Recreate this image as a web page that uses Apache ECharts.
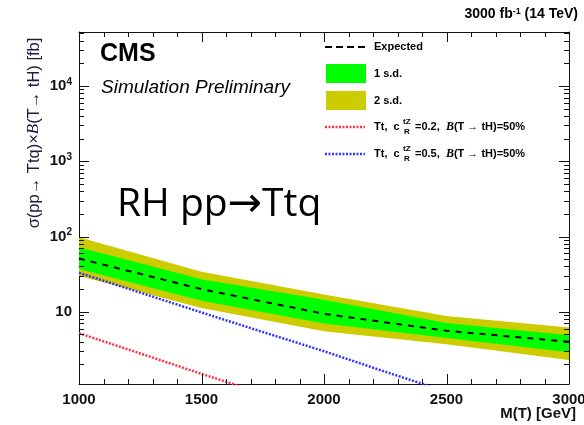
<!DOCTYPE html>
<html>
<head>
<meta charset="utf-8">
<script src="https://cdn.jsdelivr.net/npm/echarts@6/dist/echarts.min.js"></script>
<style>
  html, body { margin: 0; padding: 0; background: #fff; }
  #chart { width: 584px; height: 425px; }
</style>
</head>
<body>
<div id="chart"></div>
<script>
// M(T) points where the limit bands were evaluated
const masses = [1000, 1500, 2000, 2500, 3000]
// expected limit and its bands [fb]
const expected = [51, 20, 9.4, 5.6, 4.0]
const sd1Low = [37, 14, 7.0, 4.5, 2.9]
const sd1High = [72, 27, 14.5, 7.1, 4.9]
const sd2Low = [30, 11.2, 5.5, 3.7, 2.3]
const sd2High = [98, 34, 17, 8.8, 6.2]
// theory curves (Tt, cR=0.2 / 0.5)
const redMass = [1000, 1250, 1500, 1750]
const redXsec = [5.2, 2.8, 1.5, 0.82]
const blueMass = [1000, 1250, 1500, 1750, 2000, 2250, 2500]
const blueXsec = [33, 18, 9.8, 5.4, 3.0, 1.6, 0.87]
// tick positions
const xMajor = [1000, 1500, 2000, 2500, 3000]
const xMinor = [1100, 1200, 1300, 1400, 1600, 1700, 1800, 1900, 2100, 2200, 2300, 2400, 2600, 2700, 2800, 2900]
const yMajor = [10, 100, 1000, 10000]
const yMinor = [2, 3, 4, 5, 6, 7, 8, 9, 20, 30, 40, 50, 60, 70, 80, 90,
  200, 300, 400, 500, 600, 700, 800, 900, 2000, 3000, 4000, 5000, 6000, 7000, 8000, 9000,
  20000, 30000, 40000, 50000]

const yMin = 1.1
const yMax = 52000
const YELLOW = '#cccc00'
const GREEN = '#00ff00'
const AX = '#111'

const pairs = (xs, ys) => xs.map((x, i) => [x, ys[i]])

const chart = echarts.init(document.getElementById('chart'))

// band polygon: upper edge left->right, lower edge right->left
function bandSeries (name, low, high, color) {
  return {
    type: 'custom', name: name, data: [0], z: 2, silent: true,
    renderItem: function (params, api) {
      const pts = []
      masses.forEach((m, i) => pts.push(api.coord([m, high[i]])))
      for (let i = masses.length - 1; i >= 0; i--) pts.push(api.coord([masses[i], low[i]]))
      return { type: 'polygon', shape: { points: pts }, style: { fill: color } }
    }
  }
}

// ROOT style ticks on all four sides, pointing into the frame
function tickSeries () {
  return {
    type: 'custom', name: 'ticks', data: [0], z: 20, silent: true, clip: false,
    renderItem: function (params, api) {
      const cs = params.coordSys
      const top = cs.y
      const bottom = cs.y + cs.height
      const left = cs.x
      const right = cs.x + cs.width
      const kids = []
      const seg = (x1, y1, x2, y2) => kids.push({
        type: 'line', shape: { x1: x1, y1: y1, x2: x2, y2: y2 },
        style: { stroke: AX, lineWidth: 1 }
      })
      const vx = (v, len) => {
        const x = Math.round(api.coord([v, yMin])[0]) + 0.5
        seg(x, bottom, x, bottom - len)
        seg(x, top, x, top + len)
      }
      const hy = (v, len) => {
        const y = Math.round(api.coord([1000, v])[1]) + 0.5
        seg(left, y, left + len, y)
        seg(right, y, right - len, y)
      }
      xMajor.forEach(v => vx(v, 10))
      xMinor.forEach(v => vx(v, 5))
      yMajor.forEach(v => hy(v, 10))
      yMinor.forEach(v => hy(v, 5))
      return { type: 'group', children: kids }
    }
  }
}

const axisLine = { show: true, lineStyle: { color: AX, width: 1 } }

const option = {
  animation: false,
  grid: { left: 79, right: 15, top: 32, bottom: 41, outerBoundsMode: 'none' },
  xAxis: [
    {
      type: 'value', position: 'bottom', min: 1000, max: 3000, interval: 500,
      axisLine: axisLine, axisTick: { show: false }, splitLine: { show: false },
      axisLabel: { color: AX, fontFamily: 'Liberation Sans', fontWeight: 'bold', fontSize: 15, margin: 8,
        formatter: v => String(v) }
    },
    {
      type: 'value', position: 'top', min: 1000, max: 3000, interval: 500,
      axisLine: { show: true, lineStyle: { color: AX, width: 1 } }, axisTick: { show: false },
      splitLine: { show: false }, axisLabel: { show: false }
    }
  ],
  yAxis: [
    {
      type: 'log', position: 'left', min: yMin, max: yMax,
      axisLine: axisLine, axisTick: { show: false }, splitLine: { show: false },
      axisLabel: {
        margin: 7,
        formatter: function (v) {
          const e = Math.log10(v)
          const r = Math.round(e)
          if (Math.abs(e - r) > 1e-6 || r < 1) return ''
          if (r === 1) return '{b|10}'
          return '{b|10}{s|' + r + '}'
        },
        rich: {
          b: { color: AX, fontFamily: 'Liberation Sans', fontWeight: 'bold', fontSize: 15, lineHeight: 18 },
          s: { color: AX, fontFamily: 'Liberation Sans', fontWeight: 'bold', fontSize: 10, verticalAlign: 'top', lineHeight: 10 }
        }
      }
    },
    {
      type: 'log', position: 'right', min: yMin, max: yMax,
      axisLine: { show: true, lineStyle: { color: AX, width: 1 } }, axisTick: { show: false },
      splitLine: { show: false }, axisLabel: { show: false }
    }
  ],
  series: [
    bandSeries('2 s.d.', sd2Low, sd2High, YELLOW),
    bandSeries('1 s.d.', sd1Low, sd1High, GREEN),
    {
      type: 'line', name: 'Expected', data: pairs(masses, expected), symbol: 'none',
      lineStyle: { color: '#000', width: 2, type: [6, 6] }, z: 5
    },
    {
      type: 'line', name: 'red', data: pairs(redMass, redXsec), symbol: 'none', clip: true,
      lineStyle: { color: '#ff3344', width: 2.5, type: [2, 1.5] }, z: 5
    },
    {
      type: 'line', name: 'blue', data: pairs(blueMass, blueXsec), symbol: 'none', clip: true,
      lineStyle: { color: '#3333ff', width: 2.5, type: [2, 1.5] }, z: 5
    },
    tickSeries()
  ],
  graphic: [
    // header
    { type: 'text', style: { x: 578, y: 14, textAlign: 'right', textVerticalAlign: 'middle',
      text: '{a|3000 fb}{s|-1}{a| (14 TeV)}',
      rich: {
        a: { fontFamily: 'Liberation Sans', fontWeight: 'bold', fontSize: 14, fill: '#000' },
        s: { fontFamily: 'Liberation Sans', fontWeight: 'bold', fontSize: 9, fill: '#000', verticalAlign: 'top' }
      } } },
    { type: 'text', style: { x: 100, y: 54, textVerticalAlign: 'middle', text: 'CMS',
      font: 'bold 25px "Liberation Sans"', fill: '#000' } },
    { type: 'text', style: { x: 101, y: 88, textVerticalAlign: 'middle', text: 'Simulation Preliminary',
      font: 'italic 19px "Liberation Sans"', fill: '#000' } },
    { type: 'text', style: { x: 117, y: 205, textVerticalAlign: 'middle',
      text: '{a|RH pp}{b|→}{a|Ttq}',
      rich: {
        a: { fontFamily: 'Open Sans', fontSize: 39, fill: '#000' },
        b: { fontFamily: 'DejaVu Sans', fontSize: 41, fill: '#000' }
      } } },
    // y title
    { type: 'text', x: 34, y: 133, rotation: Math.PI / 2,
      style: { x: 0, y: 0, textAlign: 'center', textVerticalAlign: 'middle',
        text: '{n|σ(pp→ Ttq)×}{i|B}{n|(T→ tH) [fb]}',
        rich: {
          n: { fontFamily: 'Liberation Sans', fontSize: 16.5, fill: '#1c1c3c' },
          i: { fontFamily: 'Liberation Serif', fontStyle: 'italic', fontSize: 17, fill: '#1c1c3c' }
        } } },
    // x title
    { type: 'text', style: { x: 576, y: 414, textAlign: 'right', textVerticalAlign: 'middle',
      text: 'M(T) [GeV]', font: 'bold 15px "Liberation Sans"', fill: AX } },
    // legend
    { type: 'line', shape: { x1: 325, y1: 47, x2: 365, y2: 47 },
      style: { stroke: '#000', lineWidth: 2, lineDash: [7, 4] } },
    { type: 'text', style: { x: 374, y: 47, textVerticalAlign: 'middle', text: 'Expected',
      font: 'bold 11px "Liberation Sans"', fill: '#000' } },
    { type: 'rect', shape: { x: 326, y: 64, width: 40, height: 19 }, style: { fill: GREEN } },
    { type: 'text', style: { x: 374, y: 74, textVerticalAlign: 'middle', text: '1 s.d.',
      font: 'bold 11px "Liberation Sans"', fill: '#000' } },
    { type: 'rect', shape: { x: 326, y: 91, width: 40, height: 19 }, style: { fill: YELLOW } },
    { type: 'text', style: { x: 374, y: 101, textVerticalAlign: 'middle', text: '2 s.d.',
      font: 'bold 11px "Liberation Sans"', fill: '#000' } },
    { type: 'line', shape: { x1: 325, y1: 127, x2: 365, y2: 127 },
      style: { stroke: '#ff3344', lineWidth: 2.5, lineDash: [2, 1.5] } },
    { type: 'line', shape: { x1: 325, y1: 154, x2: 365, y2: 154 },
      style: { stroke: '#3333ff', lineWidth: 2.5, lineDash: [2, 1.5] } }
  ]
}

// legend text for the two theory curves
;[[127, '0.2'], [154, '0.5']].forEach(function (row) {
  const y = row[0]
  option.graphic.push(
    { type: 'text', style: { x: 374, y: y, textVerticalAlign: 'middle', text: 'Tt,  c',
      font: 'bold 11px "Liberation Sans"', fill: '#000' } },
    { type: 'text', style: { x: 403, y: y - 5, textVerticalAlign: 'middle', text: 'tZ',
      font: 'bold 8px "Liberation Sans"', fill: '#000' } },
    { type: 'text', style: { x: 404, y: y + 5, textVerticalAlign: 'middle', text: 'R',
      font: 'bold 8px "Liberation Sans"', fill: '#000' } },
    { type: 'text', style: { x: 415, y: y, textVerticalAlign: 'middle',
      text: '{n|=' + row[1] + ',  }{i|B}{n|(T → tH)=50%}',
      rich: {
        n: { fontFamily: 'Liberation Sans', fontWeight: 'bold', fontSize: 11, fill: '#000' },
        i: { fontFamily: 'Liberation Serif', fontStyle: 'italic', fontWeight: 'bold', fontSize: 12, fill: '#000' }
      } } }
  )
})

chart.setOption(option)
</script>
</body>
</html>
